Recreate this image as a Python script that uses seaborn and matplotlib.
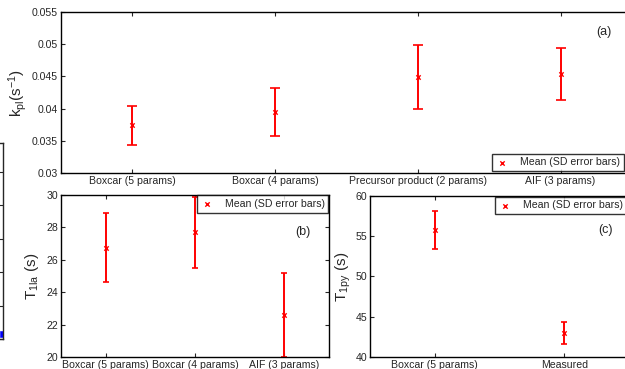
import numpy as np
import pandas as pd
import matplotlib
matplotlib.use("Agg")
import matplotlib.pyplot as plt
import seaborn as sns

# (a) k_pl per model
kpl_models = ['Boxcar (5 params)', 'Boxcar (4 params)',
              'Precursor product (2 params)', 'AIF (3 params)']
kpl_mean = [0.0374, 0.0395, 0.0449, 0.0454]
kpl_sd = [0.0030, 0.0037, 0.0050, 0.0040]

# (b) T1 lactate
t1la_models = ['Boxcar (5 params)', 'Boxcar (4 params)', 'AIF (3 params)']
t1la_mean = [26.75, 27.7, 22.6]
t1la_sd = [2.15, 2.2, 2.6]

# (c) T1 pyruvate
t1py_models = ['Boxcar (5 params)', 'Measured']
t1py_mean = [55.8, 43.0]
t1py_sd = [2.35, 1.35]

# fragment of neighbouring panel on the left edge
left_x = [1.0]
left_y = [0.15]

sns.set_style("ticks")
plt.rcParams['font.family'] = ['Liberation Sans', 'DejaVu Sans']
plt.rcParams['mathtext.default'] = 'regular'
plt.rcParams['axes.linewidth'] = 1.0

W, H = 625, 369
fig = plt.figure(figsize=(6.25, 3.69), dpi=100)


def px_axes(l, t, r, b):
    return fig.add_axes([l / W, 1 - b / H, (r - l) / W, (b - t) / H])


def panel(ax, models, mean, sd, ylim, yticks, ylabel, tag, tagpos,
          leg_loc, leg_anchor, capsize):
    df = pd.DataFrame({'pos': np.arange(1, len(models) + 1), 'mean': mean})
    ax.errorbar(df['pos'], df['mean'], yerr=sd, fmt='none', ecolor='red',
                elinewidth=1.4, capsize=capsize, capthick=1.2, zorder=2)
    sns.scatterplot(data=df, x='pos', y='mean', marker='x', color='red',
                    s=10, linewidth=1.0, ax=ax, zorder=3,
                    label='Mean (SD error bars)')
    ax.set_xlim(0.5, len(models) + 0.5)
    ax.set_ylim(*ylim)
    ax.set_xticks(df['pos'])
    ax.set_xticklabels(models, fontsize=7.6)
    ax.set_yticks(yticks)
    ax.set_yticklabels(['%g' % v for v in yticks], fontsize=7.6)
    ax.tick_params(direction='in', top=True, right=True, length=3,
                   width=0.8, pad=2)
    ax.set_xlabel('')
    ax.set_ylabel(ylabel, fontsize=11)
    ax.text(tagpos[0], tagpos[1], tag, transform=ax.transAxes, fontsize=9,
            ha='center', va='center')
    leg = ax.legend(loc=leg_loc, bbox_to_anchor=leg_anchor, fontsize=7.6,
                    frameon=True, fancybox=False, borderaxespad=0,
                    handlelength=1.2, handletextpad=1.1, borderpad=0.35,
                    markerscale=1.0)
    leg.get_frame().set_edgecolor('black')
    leg.get_frame().set_linewidth(1.0)
    for s in ax.spines.values():
        s.set_color('black')


ax_a = px_axes(61, 12, 632, 173)
panel(ax_a, kpl_models, kpl_mean, kpl_sd, (0.03, 0.055),
      [0.03, 0.035, 0.04, 0.045, 0.05, 0.055], 'k$_{pl}$(s$^{-1}$)',
      '(a)', (0.951, 0.876), 'lower right', (0.986, 0.012), 3.5)
ax_a.yaxis.labelpad = 2

ax_b = px_axes(61, 195, 329, 357)
panel(ax_b, t1la_models, t1la_mean, t1la_sd, (20, 30),
      [20, 22, 24, 26, 28, 30], 'T$_{1la}$ (s)',
      '(b)', (0.903, 0.77), 'upper right', (0.997, 0.998), 2)
ax_b.yaxis.labelpad = 4

ax_c = px_axes(370, 196, 629, 357)
panel(ax_c, t1py_models, t1py_mean, t1py_sd, (40, 60),
      [40, 45, 50, 55, 60], 'T$_{1py}$ (s)',
      '(c)', (0.911, 0.79), 'upper right', (0.99, 0.995), 2)
ax_c.yaxis.labelpad = 2

# partial neighbouring axes cut by the left edge
ax_l = px_axes(-200, 143, 3, 339)
sns.scatterplot(x=left_x, y=left_y, marker='s', color='blue', s=25,
                ax=ax_l, edgecolor='blue')
ax_l.set_xlim(0, 1.0)
ax_l.set_ylim(0, 5.87)
ax_l.set_yticks(np.arange(0, 6))
ax_l.tick_params(direction='in', right=True, left=True, length=3,
                 labelleft=False, labelbottom=False, bottom=False)

fig.savefig('out.png', dpi=100)
